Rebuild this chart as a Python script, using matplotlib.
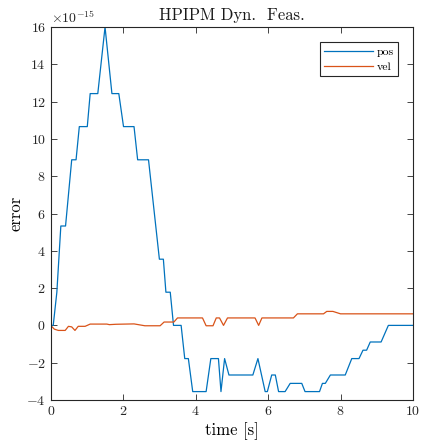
import numpy as np
import matplotlib
matplotlib.use("Agg")
import matplotlib.pyplot as plt
from matplotlib.ticker import ScalarFormatter

plt.rcParams["font.family"] = "cmr10"
plt.rcParams["mathtext.fontset"] = "cm"
plt.rcParams["axes.formatter.use_mathtext"] = True

# pos error (units of 1e-15)
pos_t = [0, 0.07, 0.17, 0.28, 0.41, 0.58, 0.70, 0.79, 1.01, 1.09, 1.30, 1.50,
         1.69, 1.88, 2.01, 2.30, 2.40, 2.70, 3.00, 3.11, 3.18, 3.30, 3.39, 3.60,
         3.70, 3.80, 3.92, 4.29, 4.42, 4.63, 4.70, 4.80, 4.92, 5.58, 5.72, 5.92,
         5.98, 6.10, 6.20, 6.29, 6.47, 6.61, 6.93, 7.02, 7.42, 7.50, 7.58, 7.72,
         8.13, 8.31, 8.51, 8.62, 8.72, 8.82, 9.12, 9.32, 10.0]
pos_v = [0, 0, 1.78, 5.33, 5.33, 8.88, 8.88, 10.66, 10.66, 12.43, 12.43, 16.0,
         12.43, 12.43, 10.66, 10.66, 8.88, 8.88, 3.55, 3.55, 1.78, 1.78, 0, 0,
         -1.78, -1.78, -3.55, -3.55, -1.78, -1.78, -3.55, -1.78, -2.66, -2.66, -1.78, -3.55,
         -3.55, -2.66, -2.66, -3.55, -3.55, -3.11, -3.11, -3.55, -3.55, -3.11, -3.11, -2.66,
         -2.66, -1.78, -1.78, -1.33, -1.33, -0.89, -0.89, 0, 0]

# vel error (units of 1e-15)
vel_t = [0, 0.10, 0.21, 0.40, 0.49, 0.58, 0.67, 0.76, 0.95, 1.09, 1.55, 1.62,
         1.80, 2.30, 2.45, 2.60, 3.02, 3.13, 3.40, 3.50, 4.19, 4.29, 4.48, 4.57,
         4.66, 4.77, 4.88, 5.64, 5.74, 5.83, 6.70, 6.81, 7.53, 7.62, 7.79, 8.00, 10.0]
vel_v = [0, -0.2, -0.27, -0.27, -0.05, -0.08, -0.27, -0.05, -0.05, 0.07, 0.07, 0.04,
         0.06, 0.08, 0.03, -0.02, -0.02, 0.18, 0.18, 0.40, 0.40, -0.02, -0.02, 0.40,
         0.40, 0.0, 0.40, 0.40, 0.0, 0.40, 0.40, 0.62, 0.62, 0.75, 0.75, 0.62, 0.62]

scale = 1e-15

fig = plt.figure(figsize=(4.34, 4.43), dpi=100)
ax = fig.add_axes([0.1168, 0.0971, 0.8348, 0.8419])

ax.plot(pos_t, np.array(pos_v) * scale, color="#0072BD", lw=0.9, label="pos")
ax.plot(vel_t, np.array(vel_v) * scale, color="#D95319", lw=0.9, label="vel")

ax.set_xlim(0, 10)
ax.set_ylim(-4e-15, 16e-15)
ax.set_xticks([0, 2, 4, 6, 8, 10])
ax.set_yticks(np.arange(-4, 17, 2) * scale)
fmt = ScalarFormatter(useMathText=True)
fmt.set_powerlimits((-15, -15))
ax.yaxis.set_major_formatter(fmt)
ax.yaxis.get_offset_text().set_fontsize(10)
ax.yaxis.get_offset_text().set_color("#262626")

for s in ax.spines.values():
    s.set_color("#262626")
    s.set_linewidth(0.8)
ax.tick_params(direction="in", top=True, right=True, length=4, width=0.6,
               colors="#262626", labelsize=10)

ax.set_title("HPIPM Dyn.  Feas.", fontsize=12, color="#1a1a1a", pad=5)
ax.set_xlabel("time [s]", fontsize=12, labelpad=3)
ax.set_ylabel("error", fontsize=12, labelpad=2)

leg = ax.legend(loc="upper right", fontsize=8.5, fancybox=False, framealpha=1,
                edgecolor="#262626", handlelength=4.1, borderaxespad=1.3,
                handletextpad=0.3, labelspacing=0.4, borderpad=0.35)
leg.get_frame().set_linewidth(0.8)

plt.savefig("out.png", dpi=100)
